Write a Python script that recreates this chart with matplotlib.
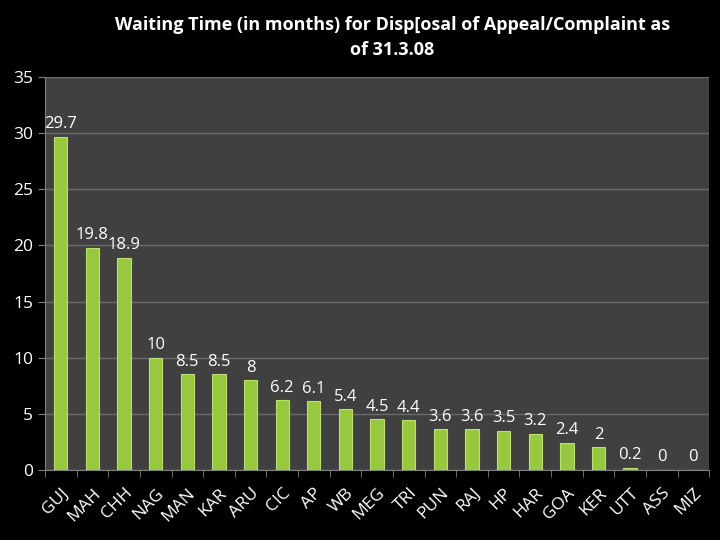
import matplotlib.pyplot as plt
import numpy as np

states = ["GUJ", "MAH", "CHH", "NAG", "MAN", "KAR", "ARU", "CIC", "AP", "WB",
          "MEG", "TRI", "PUN", "RAJ", "HP", "HAR", "GOA", "KER", "UTT", "ASS", "MIZ"]
months = [29.7, 19.8, 18.9, 10, 8.5, 8.5, 8, 6.2, 6.1, 5.4,
          4.5, 4.4, 3.6, 3.6, 3.5, 3.2, 2.4, 2, 0.2, 0, 0]
value_labels = ["29.7", "19.8", "18.9", "10", "8.5", "8.5", "8", "6.2", "6.1", "5.4",
                "4.5", "4.4", "3.6", "3.6", "3.5", "3.2", "2.4", "2", "0.2", "0", "0"]

plt.rcParams['font.family'] = ['Open Sans', 'DejaVu Sans']

fig = plt.figure(figsize=(7.2, 5.4), dpi=100, facecolor='black')
ax = fig.add_axes([0.0625, 0.13, 0.9225, 0.727])
ax.set_facecolor('#404040')

x = np.arange(len(states))
bars = ax.bar(x, months, width=0.42, color='#98c840', edgecolor='#bce070',
              linewidth=0.8, zorder=3)

for xi, v, lab in zip(x, months, value_labels):
    ax.text(xi, v + 0.4, lab, ha='center', va='bottom', color='white', fontsize=12, zorder=4)

ax.set_ylim(0, 35)
ax.set_xlim(-0.5, len(states) - 0.5)
ax.set_yticks(range(0, 36, 5))
ax.yaxis.grid(True, color='#6a6a6a', linewidth=1, zorder=0)
ax.set_axisbelow(True)

ax.set_xticks(x)
ax.set_xticklabels(states, rotation=45, ha='right', rotation_mode='anchor')
ax.set_xticks(np.arange(-0.5, len(states), 1), minor=True)
ax.tick_params(axis='x', which='major', length=0, colors='white', labelsize=12.5, pad=11)
ax.tick_params(axis='x', which='minor', length=5, color='#808080')
ax.tick_params(axis='y', length=5, color='#808080', colors='white', labelsize=12.5)

for s in ['top', 'right']:
    ax.spines[s].set_visible(False)
ax.spines['left'].set_color('#808080')
ax.spines['bottom'].set_color('#808080')

fig.text(0.545, 0.93, "Waiting Time (in months) for Disp[osal of Appeal/Complaint as\nof 31.3.08",
         ha='center', va='center', color='white', fontsize=13, fontweight='bold', linespacing=1.5)

fig.savefig('out.png', dpi=100, facecolor='black')
